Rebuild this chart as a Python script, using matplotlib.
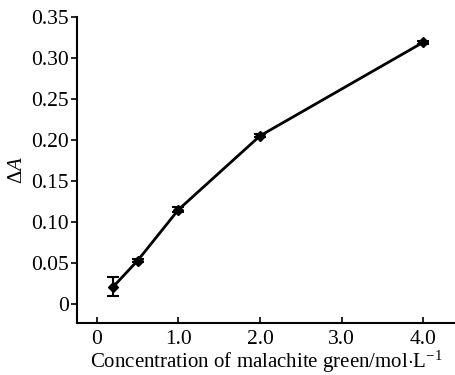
import matplotlib
matplotlib.use("Agg")
import matplotlib.pyplot as plt

# malachite green concentration vs. absorbance change
conc = [0.2, 0.5, 1.0, 2.0, 4.0]
delta_a = [0.021, 0.053, 0.115, 0.205, 0.319]
err = [0.0115, 0.002, 0.003, 0.002, 0.002]

xticks = [0, 1.0, 2.0, 3.0, 4.0]
xticklabels = ["0", "1.0", "2.0", "3.0", "4.0"]
yticks = [0, 0.05, 0.10, 0.15, 0.20, 0.25, 0.30, 0.35]
yticklabels = ["0", "0.05", "0.10", "0.15", "0.20", "0.25", "0.30", "0.35"]

plt.rcParams["font.family"] = ["Liberation Serif", "DejaVu Serif"]
plt.rcParams["mathtext.fontset"] = "custom"
plt.rcParams["mathtext.rm"] = "Liberation Serif"
plt.rcParams["mathtext.it"] = "Liberation Serif:italic"

fig = plt.figure(figsize=(4.55, 3.75), dpi=100)
ax = fig.add_axes([0.169, 0.139, 0.831, 0.816])

ax.errorbar(conc, delta_a, yerr=err, color="black", linewidth=2,
            marker="D", markersize=5, capsize=4, capthick=1.5, elinewidth=1.5)

ax.set_xlim(-0.245, 4.39)
ax.set_ylim(-0.023, 0.35)
ax.set_xticks(xticks, xticklabels)
ax.set_yticks(yticks, yticklabels)
ax.tick_params(axis="x", direction="in", length=4, width=1.2, labelsize=15.5, pad=5)
ax.tick_params(axis="y", direction="out", length=4, width=1.2, labelsize=15.5, pad=2)
ax.spines[["top", "right"]].set_visible(False)
for s in ("left", "bottom"):
    ax.spines[s].set_linewidth(1.5)

ax.set_xlabel(r"Concentration of malachite green/mol$\cdot$L$^{-1}$", fontsize=15, labelpad=0)
ax.set_ylabel(r"$\Delta A$", fontsize=15, labelpad=3)

fig.savefig("out.png", dpi=100)
